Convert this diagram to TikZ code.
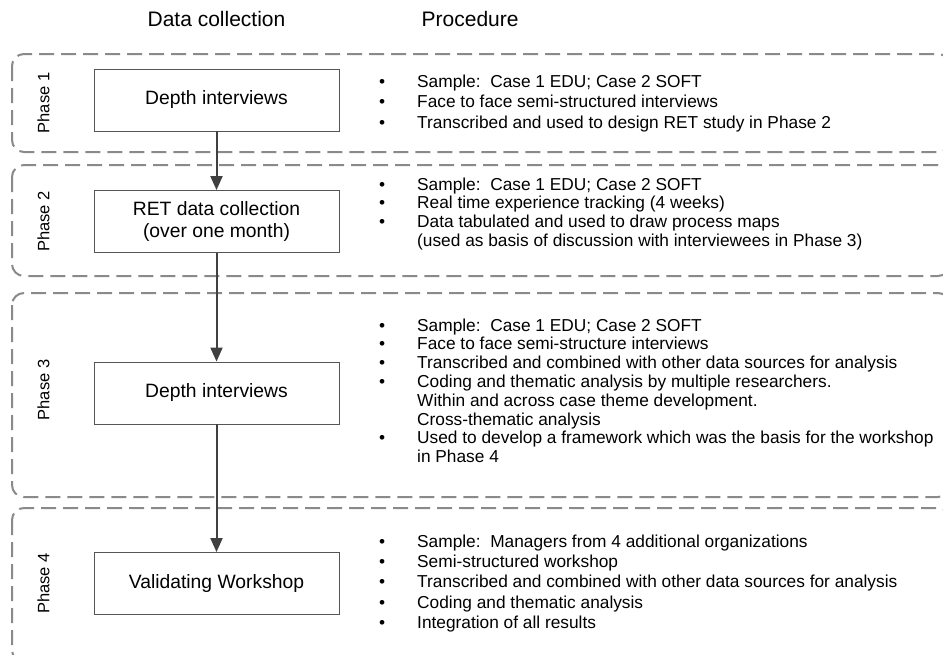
\documentclass[tikz,border=0pt]{standalone}
\usepackage{fontspec}
\setmainfont{Liberation Sans}
\usetikzlibrary{arrows.meta}
\definecolor{dashgray}{HTML}{8A8A8A}
\definecolor{boxgray}{HTML}{555555}
\definecolor{arrowgray}{HTML}{404040}
\newcommand\myBullet[3]{\node[procline] (#1) at (379,#2) {\makebox[38pt][l]{•}#3};}
\newcommand\myCont[3]{\node[procline] (#1) at (379,#2) {\hspace*{38pt}#3};}
\begin{document}
\begin{tikzpicture}[x=1pt,y=-1pt,
  phasebox/.style={draw=dashgray,line width=2pt,dash pattern=on 15pt off 7pt,rounded corners=12pt},
  databox/.style={draw=boxgray,line width=0.9pt,minimum width=245pt,minimum height=62pt,
    align=center,inner sep=0pt,font=\fontsize{19.3}{22.5}\selectfont},
  flow/.style={draw=arrowgray,line width=2pt,-{Triangle[length=14pt,width=12pt]}},
  procline/.style={anchor=base west,inner sep=0pt,font=\fontsize{17.3}{20}\selectfont},
  header/.style={anchor=base,inner sep=0pt,font=\fontsize{21}{24}\selectfont},
  phaselabel/.style={rotate=90,inner sep=0pt,font=\fontsize{16.5}{19}\selectfont}]
\useasboundingbox (0,0) rectangle (943,654);
\begin{scope}
\clip (0,0) rectangle (943,654);
\draw[phasebox] (12,54) rectangle (950,152);
\draw[phasebox] (12,165) rectangle (950,276);
\draw[phasebox] (12,293) rectangle (950,497);
\draw[phasebox] (12,508) rectangle (950,662);
\end{scope}

\node[header] (hdc) at (216.5,26) {Data collection};
\node[header,anchor=base west] (hpr) at (421.5,26) {Procedure};

\node[phaselabel] (ph1) at (43.5,103) {Phase 1};
\node[phaselabel] (ph2) at (43.5,221.5) {Phase 2};
\node[phaselabel] (ph3) at (43.5,390) {Phase 3};
\node[phaselabel] (ph4) at (43.5,583.5) {Phase 4};

\node[databox] (b1) at (216.5,100) {Depth interviews};
\node[databox] (b2) at (216.5,221.5) {RET data collection\\(over one month)};
\node[databox] (b3) at (216.5,393) {Depth interviews};
\node[databox] (b4) at (216.5,583.5) {Validating Workshop};

\draw[flow] (b1) -- (b2);
\draw[flow] (b2) -- (b3);
\draw[flow] (b3) -- (b4);

\myBullet{a1}{87.5}{Sample:\ \ Case 1 EDU; Case 2 SOFT}
\myBullet{a2}{107.8}{Face to face semi-structured interviews}
\myBullet{a3}{128}{Transcribed and used to design RET study in Phase 2}

\myBullet{c1}{190}{Sample:\ \ Case 1 EDU; Case 2 SOFT}
\myBullet{c2}{208.8}{Real time experience tracking (4 weeks)}
\myBullet{c3}{227.6}{Data tabulated and used to draw process maps}
\myCont{c4}{246.4}{(used as basis of discussion with interviewees in Phase 3)}

\myBullet{d1}{331}{Sample:\ \ Case 1 EDU; Case 2 SOFT}
\myBullet{d2}{349.8}{Face to face semi-structure interviews}
\myBullet{d3}{368.6}{Transcribed and combined with other data sources for analysis}
\myBullet{d4}{387.4}{Coding and thematic analysis by multiple researchers.}
\myCont{d5}{406.2}{Within and across case theme development.}
\myCont{d6}{425}{Cross-thematic analysis}
\myBullet{d7}{443.8}{Used to develop a framework which was the basis for the workshop}
\myCont{d8}{462.6}{in Phase 4}

\myBullet{e1}{547.7}{Sample:\ \ Managers from 4 additional organizations}
\myBullet{e2}{567.8}{Semi-structured workshop}
\myBullet{e3}{587.9}{Transcribed and combined with other data sources for analysis}
\myBullet{e4}{608}{Coding and thematic analysis}
\myBullet{e5}{628.1}{Integration of all results}
\end{tikzpicture}
\end{document}
